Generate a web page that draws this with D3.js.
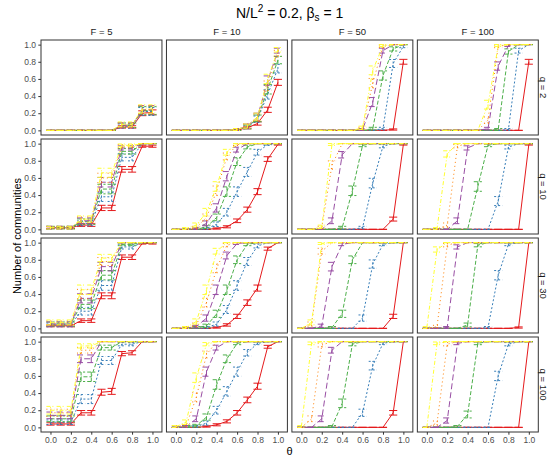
<!DOCTYPE html>
<html>
<head>
<meta charset="utf-8">
<script src="https://cdn.jsdelivr.net/npm/d3@7/dist/d3.min.js"></script>
<style>
  body { margin: 0; background: #fff; }
  text { font-family: "Liberation Sans", Arial, Helvetica, sans-serif; }
</style>
</head>
<body>
<svg id="chart" width="554" height="462"></svg>
<script>
// Threshold values on the x axis (shared by every panel)
const theta = [0, 0.1, 0.2, 0.3, 0.4, 0.5, 0.6, 0.7, 0.8, 0.9, 1.0];

// Facet levels
const fValues = [5, 10, 50, 100];   // columns
const qValues = [2, 10, 30, 100];   // rows

// Axis ticks
const xTickValues = [0, 0.2, 0.4, 0.6, 0.8, 1.0];
const yTickValues = [0, 0.2, 0.4, 0.6, 0.8, 1.0];

// Series (drawn in this order) and the number of runs behind each mean
const seriesNames = ["s1", "s2", "s3", "s4", "s5", "s6"];
const runs = [200, 80, 80, 80, 80, 80];

// Mean fraction per panel: one row per series, one column per theta value
const q2F5 = [
  [0, 0, 0, 0, 0, 0, 0, 0.04, 0.04, 0.20, 0.21],
  [0, 0, 0, 0, 0, 0, 0, 0.05, 0.05, 0.22, 0.22],
  [0, 0, 0, 0, 0, 0, 0, 0.06, 0.06, 0.23, 0.23],
  [0, 0, 0, 0, 0, 0, 0, 0.06, 0.06, 0.24, 0.24],
  [0, 0, 0, 0, 0, 0, 0, 0.06, 0.06, 0.24, 0.24],
  [0, 0, 0, 0, 0, 0, 0, 0.07, 0.07, 0.25, 0.25]
];
const q2F10 = [
  [0, 0, 0, 0, 0, 0, 0.005, 0.03, 0.08, 0.24, 0.56],
  [0, 0, 0, 0, 0, 0, 0.01, 0.04, 0.13, 0.42, 0.72],
  [0, 0, 0, 0, 0, 0, 0.01, 0.04, 0.14, 0.48, 0.82],
  [0, 0, 0, 0, 0, 0, 0.01, 0.05, 0.16, 0.58, 0.93],
  [0, 0, 0, 0, 0, 0, 0.01, 0.05, 0.15, 0.52, 0.90],
  [0, 0, 0, 0, 0, 0, 0.01, 0.05, 0.16, 0.60, 0.94]
];
const q2F50 = [
  [0, 0, 0, 0, 0, 0, 0, 0, 0, 0.01, 0.80],
  [0, 0, 0, 0, 0, 0, 0, 0, 0.02, 0.78, 0.98],
  [0, 0, 0, 0, 0, 0, 0, 0.02, 0.64, 0.95, 1],
  [0, 0, 0, 0, 0, 0, 0.01, 0.33, 0.93, 1, 1],
  [0, 0, 0, 0, 0, 0, 0.02, 0.55, 0.98, 1, 1],
  [0, 0, 0, 0, 0, 0, 0.03, 0.70, 0.99, 1, 1]
];
const q2F100 = [
  [0, 0, 0, 0, 0, 0, 0, 0, 0, 0, 0.80],
  [0, 0, 0, 0, 0, 0, 0, 0, 0.01, 0.93, 1],
  [0, 0, 0, 0, 0, 0, 0, 0.01, 0.92, 1, 1],
  [0, 0, 0, 0, 0, 0, 0.02, 0.75, 0.99, 1, 1],
  [0, 0, 0, 0, 0, 0, 0.12, 0.98, 1, 1, 1],
  [0, 0, 0, 0, 0, 0, 0.30, 0.99, 1, 1, 1]
];

const q10F5 = [
  [0.02, 0.02, 0.02, 0.05, 0.05, 0.25, 0.25, 0.70, 0.70, 0.97, 0.97],
  [0.02, 0.02, 0.02, 0.07, 0.07, 0.38, 0.38, 0.84, 0.84, 1, 1],
  [0.02, 0.02, 0.02, 0.09, 0.09, 0.47, 0.47, 0.91, 0.91, 1, 1],
  [0.02, 0.02, 0.02, 0.10, 0.10, 0.55, 0.55, 0.95, 0.95, 1, 1],
  [0.02, 0.02, 0.02, 0.11, 0.11, 0.60, 0.60, 0.97, 0.97, 1, 1],
  [0.02, 0.02, 0.02, 0.12, 0.12, 0.66, 0.66, 0.98, 0.98, 1, 1]
];
const q10F10 = [
  [0, 0, 0, 0, 0.01, 0.03, 0.10, 0.23, 0.44, 0.82, 0.99],
  [0, 0, 0, 0.01, 0.06, 0.20, 0.44, 0.67, 0.90, 0.99, 1],
  [0, 0, 0, 0.03, 0.14, 0.44, 0.79, 0.96, 1, 1, 1],
  [0, 0, 0.01, 0.07, 0.25, 0.62, 0.93, 1, 1, 1, 1],
  [0, 0, 0.02, 0.14, 0.45, 0.85, 0.99, 1, 1, 1, 1],
  [0, 0.01, 0.05, 0.20, 0.50, 0.90, 1, 1, 1, 1, 1]
];
const q10F50 = [
  [0, 0, 0, 0, 0, 0, 0, 0, 0, 0.12, 0.99],
  [0, 0, 0, 0, 0, 0, 0.02, 0.54, 0.97, 1, 1],
  [0, 0, 0, 0, 0.02, 0.45, 0.98, 1, 1, 1, 1],
  [0, 0, 0, 0.10, 0.87, 1, 1, 1, 1, 1, 1],
  [0, 0, 0.02, 0.75, 1, 1, 1, 1, 1, 1, 1],
  [0, 0, 0.03, 0.99, 1, 1, 1, 1, 1, 1, 1]
];
const q10F100 = [
  [0, 0, 0, 0, 0, 0, 0, 0, 0, 0, 0.99],
  [0, 0, 0, 0, 0, 0, 0, 0.33, 0.96, 1, 1],
  [0, 0, 0, 0, 0, 0.50, 0.98, 1, 1, 1, 1],
  [0, 0, 0, 0.10, 0.95, 1, 1, 1, 1, 1, 1],
  [0, 0, 0.05, 0.97, 1, 1, 1, 1, 1, 1, 1],
  [0, 0.01, 0.88, 1, 1, 1, 1, 1, 1, 1, 1]
];

const q30F5 = [
  [0.03, 0.03, 0.03, 0.09, 0.09, 0.38, 0.38, 0.83, 0.83, 0.99, 0.99],
  [0.04, 0.04, 0.04, 0.20, 0.20, 0.50, 0.50, 0.95, 0.95, 1, 1],
  [0.05, 0.05, 0.05, 0.28, 0.28, 0.62, 0.62, 0.98, 0.98, 1, 1],
  [0.05, 0.05, 0.05, 0.35, 0.35, 0.72, 0.72, 1, 1, 1, 1],
  [0.06, 0.06, 0.06, 0.40, 0.40, 0.78, 0.78, 1, 1, 1, 1],
  [0.07, 0.07, 0.07, 0.45, 0.45, 0.82, 0.82, 1, 1, 1, 1]
];
const q30F10 = [
  [0, 0, 0, 0, 0.01, 0.04, 0.14, 0.30, 0.47, 0.93, 1],
  [0, 0, 0, 0.01, 0.05, 0.22, 0.50, 0.78, 0.96, 1, 1],
  [0, 0, 0.01, 0.03, 0.17, 0.45, 0.80, 0.98, 1, 1, 1],
  [0, 0, 0.02, 0.12, 0.45, 0.85, 0.99, 1, 1, 1, 1],
  [0, 0.01, 0.04, 0.30, 0.70, 0.97, 1, 1, 1, 1, 1],
  [0, 0.01, 0.08, 0.45, 0.90, 1, 1, 1, 1, 1, 1]
];
const q30F50 = [
  [0, 0, 0, 0, 0, 0, 0, 0, 0, 0.14, 1],
  [0, 0, 0, 0, 0, 0, 0.12, 0.75, 0.98, 1, 1],
  [0, 0, 0, 0.01, 0.17, 0.80, 1, 1, 1, 1, 1],
  [0, 0, 0.03, 0.72, 0.98, 1, 1, 1, 1, 1, 1],
  [0, 0.05, 0.90, 1, 1, 1, 1, 1, 1, 1, 1],
  [0, 0.07, 0.99, 1, 1, 1, 1, 1, 1, 1, 1]
];
const q30F100 = [
  [0, 0, 0, 0, 0, 0, 0, 0, 0, 0.01, 1],
  [0, 0, 0, 0, 0, 0, 0.01, 0.62, 0.98, 1, 1],
  [0, 0, 0, 0, 0.04, 0.97, 1, 1, 1, 1, 1],
  [0, 0, 0.01, 0.95, 1, 1, 1, 1, 1, 1, 1],
  [0, 0.02, 0.97, 1, 1, 1, 1, 1, 1, 1, 1],
  [0.01, 0.92, 1, 1, 1, 1, 1, 1, 1, 1, 1]
];

const q100F5 = [
  [0.04, 0.04, 0.04, 0.17, 0.17, 0.41, 0.42, 0.86, 0.87, 1, 1],
  [0.06, 0.06, 0.06, 0.33, 0.33, 0.78, 0.78, 0.97, 0.97, 1, 1],
  [0.10, 0.10, 0.10, 0.59, 0.59, 0.93, 0.93, 1, 1, 1, 1],
  [0.14, 0.14, 0.14, 0.80, 0.80, 1, 1, 1, 1, 1, 1],
  [0.17, 0.17, 0.17, 0.90, 0.90, 1, 1, 1, 1, 1, 1],
  [0.20, 0.20, 0.20, 0.95, 0.95, 1, 1, 1, 1, 1, 1]
];
const q100F10 = [
  [0, 0, 0, 0.01, 0.03, 0.07, 0.17, 0.32, 0.48, 0.94, 1],
  [0, 0, 0.01, 0.05, 0.20, 0.42, 0.65, 0.87, 0.98, 1, 1],
  [0, 0.01, 0.02, 0.12, 0.50, 0.80, 0.98, 1, 1, 1, 1],
  [0, 0.01, 0.10, 0.65, 0.93, 1, 1, 1, 1, 1, 1],
  [0.01, 0.02, 0.35, 0.85, 1, 1, 1, 1, 1, 1, 1],
  [0.01, 0.06, 0.58, 0.97, 1, 1, 1, 1, 1, 1, 1]
];
const q100F50 = [
  [0, 0, 0, 0, 0, 0, 0, 0, 0, 0.17, 1],
  [0, 0, 0, 0, 0, 0, 0.17, 0.72, 0.98, 1, 1],
  [0, 0, 0, 0.01, 0.28, 0.97, 1, 1, 1, 1, 1],
  [0, 0, 0.10, 0.90, 1, 1, 1, 1, 1, 1, 1],
  [0, 0.10, 0.96, 1, 1, 1, 1, 1, 1, 1, 1],
  [0.01, 0.98, 1, 1, 1, 1, 1, 1, 1, 1, 1]
];
const q100F100 = [
  [0, 0, 0, 0, 0, 0, 0, 0, 0, 0, 1],
  [0, 0, 0, 0, 0, 0, 0, 0.60, 0.97, 1, 1],
  [0, 0, 0, 0.01, 0.15, 0.98, 1, 1, 1, 1, 1],
  [0, 0, 0.08, 0.98, 1, 1, 1, 1, 1, 1, 1],
  [0, 0.05, 0.97, 1, 1, 1, 1, 1, 1, 1, 1],
  [0, 0.98, 1, 1, 1, 1, 1, 1, 1, 1, 1]
];

// Lookup: row (q) -> column (F) -> series matrix
const panelGrid = [
  [q2F5, q2F10, q2F50, q2F100],
  [q10F5, q10F10, q10F50, q10F100],
  [q30F5, q30F10, q30F50, q30F100],
  [q100F5, q100F10, q100F50, q100F100]
];

// ---- styling ----
const colors = ["#E41A1C", "#377EB8", "#4DAF4A", "#984EA3", "#FF7F00", "#FFFF33"];
const dashes = [null, "2,2", "4,2", "6,3", "1,3", "4,2,1,2"];

const svg = d3.select("#chart");

const plotLeft = 41, plotRight = 538.3, plotTop = 40, plotBottom = 432;
const gapX = 4.5, gapY = 4;
const panelW = (plotRight - plotLeft - 3 * gapX) / 4;
const panelH = (plotBottom - plotTop - 3 * gapY) / 4;

const x = d3.scaleLinear().domain([-0.093, 1.093]).range([0, panelW]);
const y = d3.scaleLinear().domain([-0.054, 1.054]).range([panelH, 0]);
const capHalf = 0.04;

svg.append("defs").append("clipPath").attr("id", "panel-clip")
  .append("rect").attr("width", panelW).attr("height", panelH);

const line = d3.line()
  .x((d, i) => x(theta[i]))
  .y(d => y(d));

function stdErr(p, n) { return Math.sqrt(p * (1 - p) / n); }

qValues.forEach((q, r) => {
  fValues.forEach((f, c) => {
    const left = plotLeft + c * (panelW + gapX);
    const top = plotTop + r * (panelH + gapY);
    const g = svg.append("g").attr("transform", `translate(${left},${top})`);
    const inner = g.append("g").attr("clip-path", "url(#panel-clip)");
    const series = panelGrid[r][c];

    series.forEach((vals, s) => {
      const sg = inner.append("g")
        .attr("class", "series-" + seriesNames[s])
        .attr("fill", "none")
        .attr("stroke", colors[s])
        .attr("stroke-width", 1)
        .attr("stroke-dasharray", dashes[s]);

      // error bars
      sg.selectAll("path.err").data(vals).join("path")
        .attr("class", "err")
        .attr("d", (p, i) => {
          const e = stdErr(p, runs[s]);
          const x0 = x(theta[i] - capHalf), x1 = x(theta[i] + capHalf), xm = x(theta[i]);
          const lo = y(p - e), hi = y(p + e);
          return `M${x0},${lo}H${x1}M${xm},${lo}V${hi}M${x0},${hi}H${x1}`;
        });

      // mean line
      sg.append("path").attr("d", line(vals));
    });

    g.append("rect")
      .attr("width", panelW).attr("height", panelH)
      .attr("fill", "none").attr("stroke", "#333").attr("stroke-width", 1);

    // left axis for the first column
    if (c === 0) {
      const ax = g.append("g").call(
        d3.axisLeft(y).tickValues(yTickValues).tickSize(2.7).tickPadding(2.3)
          .tickFormat(d3.format(".1f")));
      ax.select(".domain").remove();
      ax.selectAll("line").attr("stroke", "#333");
      ax.selectAll("text").attr("fill", "#4D4D4D").attr("font-size", 8.5)
        .style("font-family", "'Liberation Sans', Arial, sans-serif");
    }
    // bottom axis for the last row
    if (r === qValues.length - 1) {
      const ax = g.append("g").attr("transform", `translate(0,${panelH})`).call(
        d3.axisBottom(x).tickValues(xTickValues).tickSize(2.7).tickPadding(2)
          .tickFormat(d3.format(".1f")));
      ax.select(".domain").remove();
      ax.selectAll("line").attr("stroke", "#333");
      ax.selectAll("text").attr("fill", "#4D4D4D").attr("font-size", 8.5)
        .style("font-family", "'Liberation Sans', Arial, sans-serif");
    }
    // column strip
    if (r === 0) {
      svg.append("text")
        .attr("x", left + panelW / 2).attr("y", 35)
        .attr("text-anchor", "middle").attr("font-size", 9.5).attr("fill", "#1A1A1A")
        .text(`F = ${f}`);
    }
    // row strip
    if (c === fValues.length - 1) {
      svg.append("text")
        .attr("transform", `translate(540.3,${top + panelH / 2}) rotate(90)`)
        .attr("text-anchor", "middle").attr("font-size", 9.5).attr("fill", "#1A1A1A")
        .text(`q = ${q}`);
    }
  });
});

// Title with super/subscripts
const title = svg.append("text")
  .attr("x", (plotLeft + plotRight) / 2).attr("y", 17.7)
  .attr("text-anchor", "middle").attr("font-size", 14).attr("fill", "#000");
title.append("tspan").text("N/L");
title.append("tspan").attr("font-size", 10).attr("dy", -5.5).text("2");
title.append("tspan").attr("dy", 5.5).text(" = 0.2, β");
title.append("tspan").attr("font-size", 10).attr("dy", 3).text("s");
title.append("tspan").attr("dy", -3).text(" = 1");

// Axis titles
svg.append("text")
  .attr("x", (plotLeft + plotRight) / 2).attr("y", 455)
  .attr("text-anchor", "middle").attr("font-size", 11).attr("fill", "#000")
  .text("θ");
svg.append("text")
  .attr("transform", `translate(20.7,${(plotTop + plotBottom) / 2}) rotate(-90)`)
  .attr("text-anchor", "middle").attr("font-size", 11).attr("fill", "#000")
  .text("Number of communities");
</script>
</body>
</html>
